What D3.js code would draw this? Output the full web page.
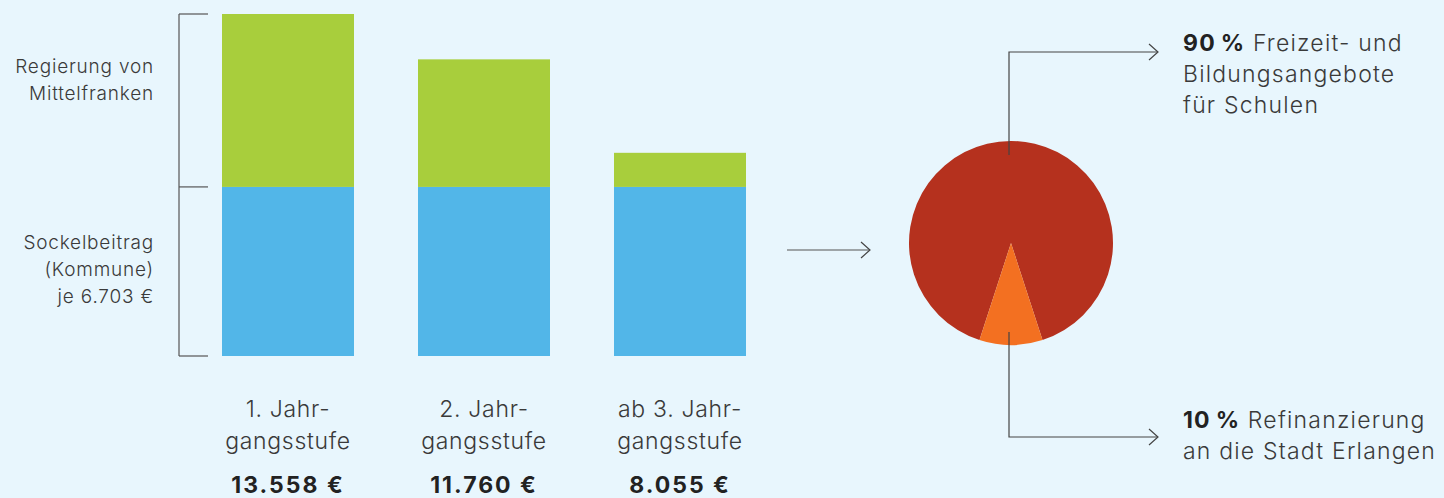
<!DOCTYPE html>
<html>
<head>
<meta charset="utf-8">
<script src="https://cdn.jsdelivr.net/npm/d3@7"></script>
<style>
  body { margin: 0; background: #e8f6fd; }
  svg { display: block; font-family: "Inter", "Roboto", sans-serif; }
  .lbl { font-weight: 300; fill: #3a3a3a; }
</style>
</head>
<body>
<div id="chart"></div>
<script>
// Data
const categories = ["1. Jahr-|gangsstufe", "2. Jahr-|gangsstufe", "ab 3. Jahr-|gangsstufe"];
const totals = [13558, 11760, 8055];
const sockel = 6703;
const totalLabels = ["13.558 €", "11.760 €", "8.055 €"];
const pieShares = [90, 10];
const pieColors = ["#b5311e", "#f37021"];

const width = 1444, height = 498;

const svg = d3.select("#chart")
    .append("svg")
    .attr("width", width)
    .attr("height", height);

// Scales
const x = d3.scalePoint()
    .domain(categories)
    .range([288, 680]);
const barW = 132;

const y = d3.scaleLinear()
    .domain([0, d3.max(totals)])
    .range([356, 14]);

// Stacked data: base (Kommune) + Regierung
const stackData = categories.map((c, i) => ({ cat: c, base: sockel, top: totals[i] - sockel }));
const series = d3.stack().keys(["base", "top"])(stackData);
const barColors = { base: "#52b6e8", top: "#a8ce3c" };

svg.selectAll(".layer")
    .data(series)
    .enter()
    .append("g")
    .attr("fill", d => barColors[d.key])
    .selectAll("rect")
    .data(d => d)
    .enter()
    .append("rect")
    .attr("x", d => x(d.data.cat) - barW / 2)
    .attr("y", d => y(d[1]))
    .attr("width", barW)
    .attr("height", d => y(d[0]) - y(d[1]));

// Bracket on the left
const bx = 179, bx2 = 208;
const bracket = svg.append("g").attr("stroke", "#555").attr("stroke-width", 1.2).attr("fill", "none");
bracket.append("line").attr("x1", bx).attr("x2", bx).attr("y1", y(d3.max(totals))).attr("y2", y(0));
[d3.max(totals), sockel, 0].forEach(v => {
    bracket.append("line").attr("x1", bx).attr("x2", bx2).attr("y1", y(v)).attr("y2", y(v));
});

// Left labels
const leftLabel = (lines, yStart) => {
    const t = svg.append("text").attr("class", "lbl").attr("text-anchor", "end")
        .attr("font-size", 19).attr("letter-spacing", 0.8);
    lines.forEach((l, i) => {
        t.append("tspan").attr("x", 154).attr("y", yStart + i * 27).text(l);
    });
};
leftLabel(["Regierung von", "Mittelfranken"], 73);
leftLabel(["Sockelbeitrag", "(Kommune)", "je 6.703 €"], 249);

// Category labels
categories.forEach((c, i) => {
    const parts = c.split("|");
    const t = svg.append("text").attr("class", "lbl").attr("text-anchor", "middle")
        .attr("font-size", 23).attr("letter-spacing", 0.7);
    parts.forEach((p, j) => {
        t.append("tspan").attr("x", x(c)).attr("y", 417 + j * 32).text(p);
    });
    svg.append("text")
        .attr("x", x(c))
        .attr("y", 493)
        .attr("text-anchor", "middle")
        .attr("font-size", 23)
        .attr("font-weight", 700)
        .attr("letter-spacing", 2)
        .attr("fill", "#222")
        .text(totalLabels[i]);
});

// Arrow helper
const arrow = (x1, y1, x2, y2) => {
    svg.append("line").attr("x1", x1).attr("y1", y1).attr("x2", x2).attr("y2", y2)
        .attr("stroke", "#555").attr("stroke-width", 1.2);
    svg.append("path")
        .attr("d", `M${x2 - 9},${y2 - 8}L${x2},${y2}L${x2 - 9},${y2 + 8}`)
        .attr("stroke", "#444").attr("stroke-width", 1.2).attr("fill", "none");
};
arrow(787, 250, 870, 250);

// Pie
const cx = 1011, cy = 243, r = 102;
const pie = d3.pie().sort(null)
    .startAngle(Math.PI + Math.PI * 0.1)
    .endAngle(Math.PI * 3 + Math.PI * 0.1);
const arc = d3.arc().innerRadius(0).outerRadius(r);
svg.append("g")
    .attr("transform", `translate(${cx},${cy})`)
    .selectAll("path")
    .data(pie(pieShares))
    .enter()
    .append("path")
    .attr("d", arc)
    .attr("fill", (d, i) => pieColors[i]);

// Leader lines
const lx = 1009;
const lead = svg.append("g").attr("stroke", "#444").attr("stroke-width", 1.2).attr("fill", "none");
lead.append("path").attr("d", `M${lx},155V52H1158`);
lead.append("path").attr("d", "M1149,44L1158,52L1149,60");
lead.append("path").attr("d", `M${lx},332V437H1158`);
lead.append("path").attr("d", "M1149,429L1158,437L1149,445");

// Right labels
const rightLabel = (bold, lines, yStart) => {
    const t = svg.append("text").attr("class", "lbl").attr("font-size", 23).attr("letter-spacing", 1.2);
    lines.forEach((l, i) => {
        const ts = t.append("tspan").attr("x", 1183).attr("y", yStart + i * 31);
        if (i === 0) {
            ts.append("tspan").attr("font-weight", 700).attr("fill", "#222").text(bold);
            ts.append("tspan").text(" " + l);
        } else {
            ts.text(l);
        }
    });
};
rightLabel("90\u202F%", ["Freizeit- und", "Bildungsangebote", "für Schulen"], 51);
rightLabel("10\u202F%", ["Refinanzierung", "an die Stadt Erlangen"], 428);
</script>
</body>
</html>
